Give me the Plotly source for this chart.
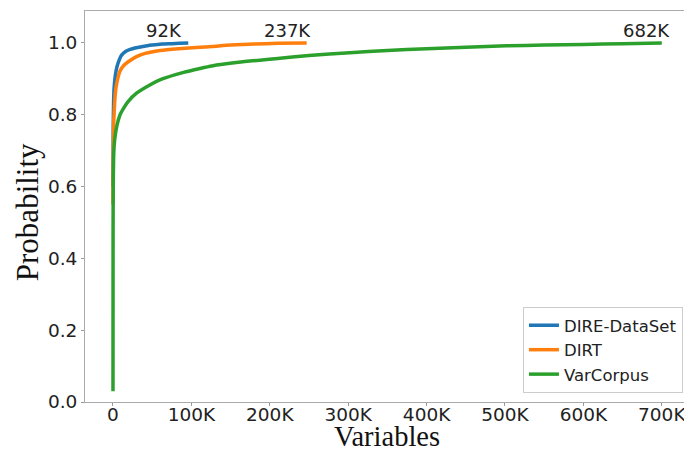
import plotly.graph_objects as go

# ---- data (x in variables, y cumulative probability) ----
series_names = ["DIRE-DataSet", "DIRT", "VarCorpus"]
series_colors = ["#1f77b4", "#ff7f0e", "#2ca02c"]

dire_x = [0, 300, 800, 1500, 3000, 5000, 8000, 11000, 16000, 22000, 28000, 40000,
          50000, 62000, 75000, 85000, 96000]
dire_y = [0.60, 0.76, 0.84, 0.877, 0.91, 0.933, 0.953, 0.966, 0.976, 0.982, 0.986,
          0.991, 0.994, 0.997, 0.998, 0.999, 1.0]

dirt_x = [0, 300, 900, 1800, 3000, 5000, 9000, 14000, 19000, 30000, 41000, 60000,
          83000, 111000, 126000, 150000, 180000, 210000, 247000]
dirt_y = [0.55, 0.70, 0.78, 0.82, 0.86, 0.89, 0.922, 0.938, 0.947, 0.962, 0.971, 0.979,
          0.984, 0.988, 0.990, 0.994, 0.997, 0.999, 1.0]

var_x = [0, 100, 300, 800, 1500, 3000, 5000, 9000, 14000, 19000, 30000, 47000, 62000,
         90000, 111000, 126000, 160000, 207000, 250000, 302000, 350000, 400000,
         450000, 502000, 550000, 600000, 650000, 700000]
var_y = [0.03, 0.45, 0.60, 0.68, 0.715, 0.745, 0.77, 0.80, 0.82, 0.836, 0.86, 0.883,
         0.899, 0.918, 0.929, 0.936, 0.946, 0.956, 0.965, 0.973, 0.979, 0.984,
         0.988, 0.992, 0.994, 0.996, 0.998, 1.0]

size_labels = ["92K", "237K", "682K"]
size_label_x = [65000, 222000, 680000]
size_label_y = [1.036, 1.036, 1.036]

x_tickvals = [0, 100000, 200000, 300000, 400000, 500000, 600000, 700000]
x_ticktext = ["0", "100K", "200K", "300K", "400K", "500K", "600K", "700K"]
y_tickvals = [0.0, 0.2, 0.4, 0.6, 0.8, 1.0]
y_ticktext = ["0.0", "0.2", "0.4", "0.6", "0.8", "1.0"]

xs = [dire_x, dirt_x, var_x]
ys = [dire_y, dirt_y, var_y]

fig = go.Figure()
for name, color, x, y in zip(series_names, series_colors, xs, ys):
    fig.add_trace(go.Scatter(x=x, y=y, mode="lines", name=name,
                             line=dict(color=color, width=3.5, shape="spline",
                                       smoothing=0.6)))

for t, x, y in zip(size_labels, size_label_x, size_label_y):
    fig.add_annotation(x=x, y=y, text=t, showarrow=False, xref="x", yref="y",
                       font=dict(family="DejaVu Sans", size=18, color="#222222"))

# axis titles as paper-anchored annotations
fig.add_annotation(text="Variables", xref="paper", yref="paper", x=0.5, y=-0.089,
                   xanchor="center", yanchor="middle", showarrow=False,
                   font=dict(family="Liberation Serif", size=28.5, color="#111111"))
fig.add_annotation(text="Probability", xref="paper", yref="paper", x=-0.094, y=0.486,
                   xanchor="center", yanchor="middle", showarrow=False, textangle=-90,
                   font=dict(family="Liberation Serif", size=31, color="#111111"))

axis_common = dict(showgrid=False, zeroline=False, showline=True, mirror=True,
                   linecolor="#aaaaaa", linewidth=1, ticks="outside", ticklen=3,
                   tickcolor="#999999", automargin=False,
                   tickfont=dict(family="DejaVu Sans", size=18.5, color="#222222"))

fig.update_xaxes(range=[-35700, 734700], tickvals=x_tickvals, ticktext=x_ticktext,
                 ticklabelstandoff=-7, **axis_common)
fig.update_yaxes(range=[0, 1.089], tickvals=y_tickvals, ticktext=y_ticktext,
                 **axis_common)

# the page body has an 8px margin; figure is sized/offset to land on 692x453
fig.update_layout(
    width=684, height=445,
    margin=dict(l=77, r=3, t=3, b=51),
    paper_bgcolor="white", plot_bgcolor="white",
    showlegend=True,
    legend=dict(x=0.99, y=0.023, xanchor="right", yanchor="bottom",
                bgcolor="white", bordercolor="#cccccc", borderwidth=1,
                font=dict(family="DejaVu Sans", size=16.5, color="#222222"),
                tracegroupgap=0, itemwidth=30),
)

fig.write_html("out.html")
